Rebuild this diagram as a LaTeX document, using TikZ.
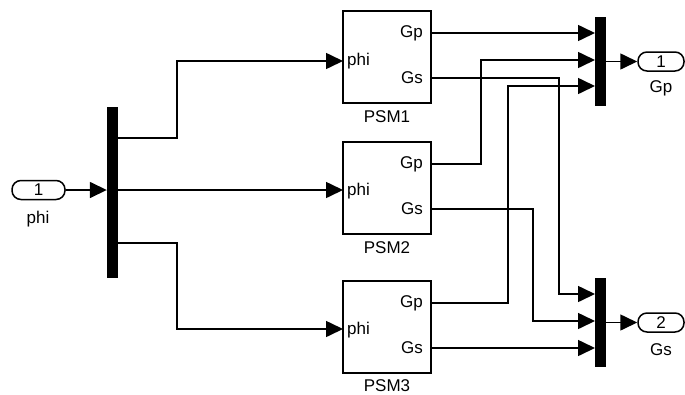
\documentclass[tikz,border=0pt]{standalone}
\usepackage{fontspec}
\setmainfont{Liberation Sans}
\usetikzlibrary{arrows.meta,positioning,calc}
\newcommand{\slfont}{\fontsize{17}{20}\selectfont}
\tikzset{
  >={Triangle[length=17pt,width=16pt]},
  blk/.style={draw,line width=1.5pt,minimum width=88pt,minimum height=92pt,inner sep=0pt}, % subsystem block
  bar/.style={fill=black,minimum width=11pt,inner sep=0pt},                               % mux / demux
  io/.style={draw,line width=1.5pt,rounded corners=9pt,minimum height=19pt,inner sep=0pt,font=\slfont},
  lbl/.style={font=\slfont,inner sep=0pt},
  sig/.style={->,line width=1.6pt},
}

\begin{document}
\begin{tikzpicture}[x=1pt,y=-1pt]
  \useasboundingbox (0,0) rectangle (685,394);
  % inport and demux
  \node[io,minimum width=53pt] (src) at (38.5,190) {1};
  \node[lbl] (srcname) at (38,219) {phi};
  \node[bar,minimum height=171pt] (dmx) at (112.5,192.5) {};
  \coordinate (dmx1) at (118,138);
  \coordinate (dmx2) at (118,190);
  \coordinate (dmx3) at (118,243);
  % subsystems
  \node[blk] (psm1) at (387,57) {};
  \node[lbl,anchor=west] (psm1phi) at (347,61) {phi};
  \node[lbl,anchor=east] (psm1gp) at (423,33) {Gp};
  \node[lbl,anchor=east] (psm1gs) at (423,78) {Gs};
  \node[lbl] (psm1name) at (387,117) {PSM1};
  \node[blk] (psm2) at (387,188) {};
  \node[lbl,anchor=west] (psm2phi) at (347,191) {phi};
  \node[lbl,anchor=east] (psm2gp) at (423,164) {Gp};
  \node[lbl,anchor=east] (psm2gs) at (423,209) {Gs};
  \node[lbl] (psm2name) at (387,248) {PSM2};
  \node[blk] (psm3) at (387,327) {};
  \node[lbl,anchor=west] (psm3phi) at (347,330) {phi};
  \node[lbl,anchor=east] (psm3gp) at (423,303) {Gp};
  \node[lbl,anchor=east] (psm3gs) at (423,348) {Gs};
  \node[lbl] (psm3name) at (387,386) {PSM3};
  \coordinate (in1) at (343,61);
  \coordinate (in2) at (343,190);
  \coordinate (in3) at (343,329);
  \coordinate (gp1) at (431,33);  \coordinate (gs1) at (431,78);
  \coordinate (gp2) at (431,164); \coordinate (gs2) at (431,209);
  \coordinate (gp3) at (431,303); \coordinate (gs3) at (431,348);
  % muxes and outports
  \node[bar,minimum height=89pt] (mx1) at (600,61.5) {};
  \node[bar,minimum height=89pt] (mx2) at (600,322.5) {};
  \coordinate (mx1a) at (595,33);  \coordinate (mx1b) at (595,60);  \coordinate (mx1c) at (595,86);
  \coordinate (mx2a) at (595,294); \coordinate (mx2b) at (595,321); \coordinate (mx2c) at (595,348);
  \node[io,minimum width=46pt] (gp) at (661,61.5) {1};
  \node[lbl] (gpname) at (661,88) {Gp};
  \node[io,minimum width=46pt] (gs) at (661,322.5) {2};
  \node[lbl] (gsname) at (661,350) {Gs};
  % signals
  \draw[sig] (src.east) -- (src.east -| dmx.west);
  \draw[sig] (dmx1) -- (177,138) |- (in1);
  \draw[sig] (dmx2) -- (in2);
  \draw[sig] (dmx3) -- (177,243) |- (in3);
  \draw[sig] (gp1) -- (mx1a);
  \draw[sig] (gp2) -- (481,164) |- (mx1b);
  \draw[sig] (gp3) -- (508,303) |- (mx1c);
  \draw[sig] (gs1) -- (559,78) |- (mx2a);
  \draw[sig] (gs2) -- (533,209) |- (mx2b);
  \draw[sig] (gs3) -- (mx2c);
  \draw[sig] (mx1.east) -- (gp.west);
  \draw[sig] (mx2.east) -- (gs.west);
\end{tikzpicture}
\end{document}
